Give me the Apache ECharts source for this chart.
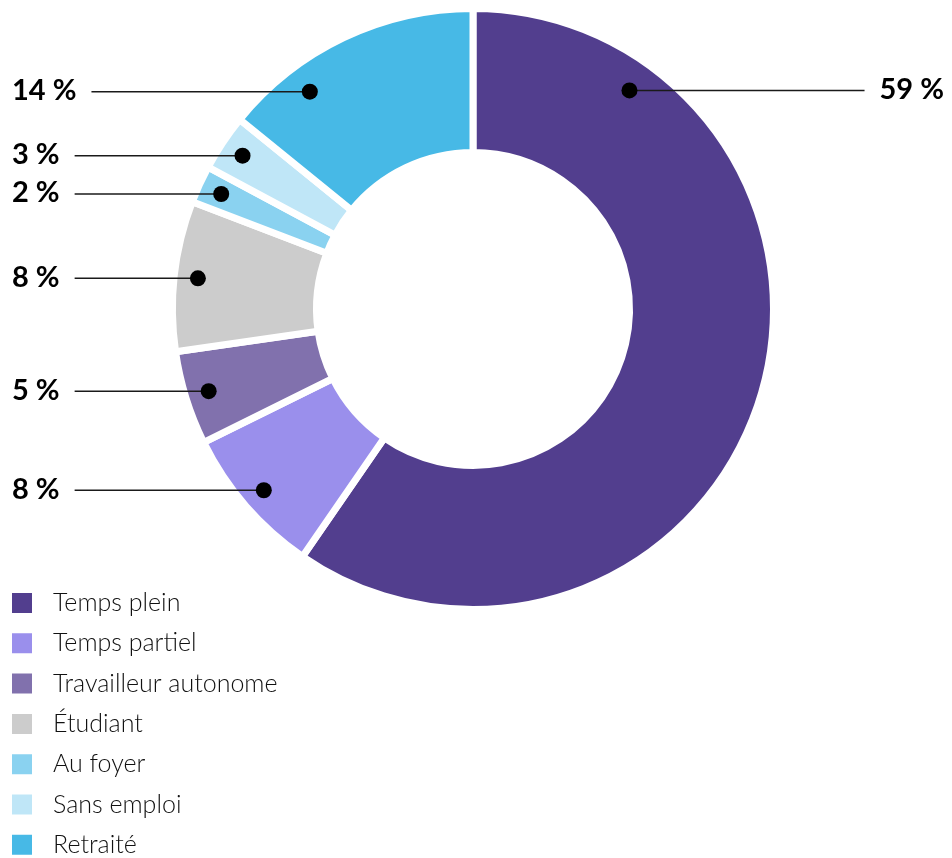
<!DOCTYPE html>
<html><head><meta charset="utf-8">
<script src="https://cdn.jsdelivr.net/npm/echarts@6/dist/echarts.min.js"></script>
<style>html,body{margin:0;padding:0;background:#fff}#c{width:952px;height:858px}</style>
</head><body><div id="c"></div>
<script>
// ---- data ----
const categories = ['Temps plein', 'Temps partiel', 'Travailleur autonome', 'Étudiant', 'Au foyer', 'Sans emploi', 'Retraité'];
const values = [59, 8, 5, 8, 2, 3, 14];
const colors = ['#523e8e', '#9a8fec', '#8171ad', '#cccccc', '#8ad2f0', '#bfe6f7', '#47b9e6'];

// ---- layout / style ----
const center = [473, 309];
const outerR = 297, innerR = 160, gap = 7;
const dotR = 0.932; // fraction of outer radius
// label anchor overrides: angle in degrees clockwise from top, r as fraction
const anchorOverride = {0: {angle: 35.6, r: 0.905}, 6: {angle: 323.1, r: 0.915}};
const labelFont = 'bold 29px Lato';

const total = values.reduce((a, b) => a + b, 0);
let cum = 0;
const anchors = values.map((v, i) => {
  const mid = (cum + v / 2) / total * 360;
  cum += v;
  const o = anchorOverride[i];
  return o ? [o.r, o.angle, v] : [dotR, mid, v];
});

const mctx = document.createElement('canvas').getContext('2d');
mctx.font = labelFont;

const chart = echarts.init(document.getElementById('c'), null, {renderer: 'canvas'});
chart.setOption({
  animation: false,
  polar: {center: center, radius: outerR},
  radiusAxis: {type: 'value', min: 0, max: 1, show: false, splitLine: {show: false}},
  angleAxis: {type: 'value', min: 0, max: 360, startAngle: 90, clockwise: true, show: false, splitLine: {show: false}},
  legend: {
    orient: 'vertical', left: 10, top: 590.5, height: 300, padding: 0, itemWidth: 22, itemHeight: 22, itemGap: 15.3,
    icon: 'rect', data: categories, selectedMode: false,
    textStyle: {fontFamily: 'Lato', fontWeight: 300, fontSize: 25, color: '#111', padding: [0, 0, 0, 15], lineHeight: 25}
  },
  series: [
    {
      type: 'pie', center: center, radius: [innerR - gap / 2, outerR + gap / 2], z: 1,
      startAngle: 90, clockwise: true, silent: true, avoidLabelOverlap: false,
      itemStyle: {borderColor: '#fff', borderWidth: gap},
      label: {show: false}, labelLine: {show: false}, emphasis: {disabled: true},
      data: categories.map((n, i) => ({name: n, value: values[i], itemStyle: {color: colors[i]}}))
    },
    {
      type: 'custom', coordinateSystem: 'polar', silent: true, z: 10, clip: false,
      encode: {radius: 0, angle: 1},
      data: anchors,
      renderItem: function (params, api) {
        const p = api.coord([api.value(0), api.value(1)]);
        const W = api.getWidth();
        const txt = api.value(2) + ' %';
        const tw = mctx.measureText(txt).width;
        const left = p[0] < center[0];
        const tx = left ? 12 : W - 8;
        const lx = left ? tx + tw + 15 : tx - tw - 15;
        return {type: 'group', children: [
          {type: 'line', shape: {x1: p[0], y1: p[1], x2: lx, y2: p[1]}, style: {stroke: '#1a1a1a', lineWidth: 1.5}},
          {type: 'circle', shape: {cx: p[0], cy: p[1], r: 8}, style: {fill: '#000'}},
          {type: 'text', x: tx, y: p[1] - 1, style: {text: txt, fill: '#000', font: labelFont, align: left ? 'left' : 'right', verticalAlign: 'middle'}}
        ]};
      }
    }
  ]
});
</script></body></html>
